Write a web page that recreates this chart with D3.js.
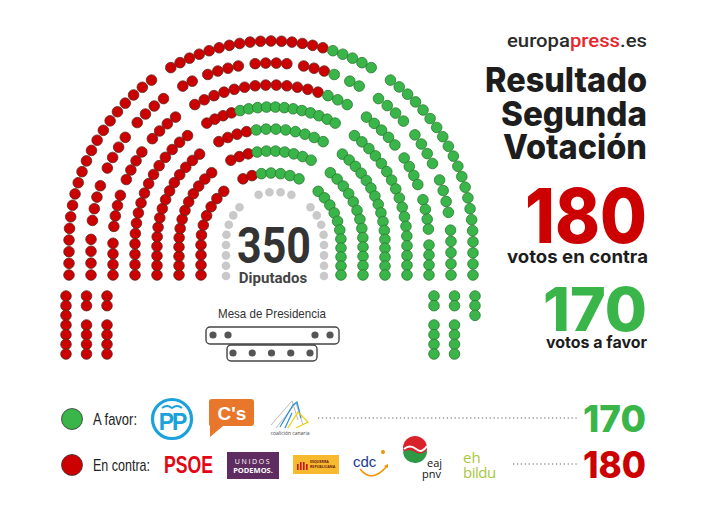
<!DOCTYPE html>
<html>
<head>
<meta charset="utf-8">
<script src="https://cdn.jsdelivr.net/npm/d3@7"></script>
<style>
  body { margin: 0; background: #fff; }
  svg { display: block; font-family: "Open Sans", sans-serif; }
</style>
</head>
<body>
<svg width="708" height="515"></svg>
<script>
// vote result
const voteLabels = ["En contra", "A favor"];
const voteTotals = [180, 170];
const totalSeats = 350;

// seats of the hemicycle, outer row first.
// each block is split in sub-blocks where a small stair breaks it,
// listed along the row from the bottom-left end to the bottom-right end
const leftBlocks = [[20], [4, 4, 4, 4], [4, 4, 4, 4], [16], [15], [13], [10]];
const centreBlocks = [[21], [2, 4, 4, 4, 2], [16], [16], [12], [10], [7]];
const rightBlocks = [[21], [4, 4, 4, 5], [5, 4, 4, 4], [17], [16], [13], [11]];
const centreRed = [16, 13, 13, 4, 4, 3, 2];

// seats below the hemicycle, one column per row (outer first)
const lowerLeft = [[7], [2, 4], [2, 4]];
const lowerRight = [[3], [2, 4], [2, 4]];

// decorative grey ring round the total and the Mesa de Presidencia
const ringBlocks = [[8], [4], [8]];
const mesaTop = [2, 2];
const mesaBottom = 5;

const colors = { "En contra": "#cc0000", "A favor": "#3ab54a" };
const strokes = { "En contra": "#5e2a22", "A favor": "#2a7a30" };
const heavy = "Inter, 'Open Sans', sans-serif";
const narrow = "'Liberation Sans Narrow', 'Liberation Sans', sans-serif";

const svg = d3.select("svg");

const cx = 271, cy = 243;
const radius = d3.scaleLinear().domain([0, 6]).range([202, 70]);
const legLength = 32;
const aisleAngle = 33 * Math.PI / 180;
const aisleHalf = 11.5;
const gapUnit = 1.6;

// point on a horseshoe row at signed path length s from the top
function pointAt(r, s, c = [cx, cy]) {
  const q = r * Math.PI / 2;
  if (Math.abs(s) <= q) {
    const t = s / r;
    return [c[0] + r * Math.sin(t), c[1] - r * Math.cos(t)];
  }
  const side = Math.sign(s);
  return [c[0] + side * r, c[1] + (Math.abs(s) - q)];
}

// spread sub-blocks of seats evenly between two path positions
function spread(blocks, s0, s1) {
  const n = d3.sum(blocks);
  const units = (n - 1) + (blocks.length - 1) * (gapUnit - 1);
  const pos = d3.scaleLinear().domain([0, units]).range([s0, s1]);
  const out = [];
  let u = 0;
  blocks.forEach(b => {
    for (let k = 0; k < b; k++) {
      out.push(pos(u));
      u += 1;
    }
    u += gapUnit - 1;
  });
  return out;
}

function rowSegments(r, leg, aisle, half) {
  const q = r * Math.PI / 2 + leg;
  const aUp = aisle - half / r;
  const aSide = aisle + half / r;
  return [[-q, -r * aSide], [-r * aUp, r * aUp], [r * aSide, q]];
}

const seats = [];
d3.range(7).forEach(i => {
  const r = radius(i);
  const seg = rowSegments(r, legLength, aisleAngle, aisleHalf);
  spread(leftBlocks[i], seg[0][0], seg[0][1]).forEach(s => {
    seats.push({ p: pointAt(r, s), vote: "En contra" });
  });
  spread(centreBlocks[i], seg[1][0], seg[1][1]).forEach((s, k) => {
    seats.push({ p: pointAt(r, s), vote: k < centreRed[i] ? "En contra" : "A favor" });
  });
  spread(rightBlocks[i], seg[2][0], seg[2][1]).forEach(s => {
    seats.push({ p: pointAt(r, s), vote: "A favor" });
  });
});

// lower side columns
const lowerX = d3.scaleLinear().domain([0, 2]).range([66, 107]);
const lowerXr = d3.scaleLinear().domain([0, 2]).range([475, 434]);
const lowerY = d3.scaleLinear().domain([0, 6]).range([296, 354]);
function lowerColumn(blocks, x, vote) {
  let slot = 0;
  blocks.forEach(b => {
    for (let k = 0; k < b; k++) {
      seats.push({ p: [x, lowerY(slot)], vote: vote });
      slot += 1;
    }
    slot += 1;
  });
}
lowerLeft.forEach((col, i) => lowerColumn(col, lowerX(i), "En contra"));
lowerRight.forEach((col, i) => lowerColumn(col, lowerXr(i), "A favor"));

svg.append("g")
  .selectAll("circle")
  .data(seats)
  .join("circle")
  .attr("cx", d => d.p[0])
  .attr("cy", d => d.p[1])
  .attr("r", 5.3)
  .attr("fill", d => colors[d.vote])
  .attr("stroke", d => strokes[d.vote])
  .attr("stroke-width", 0.8);

// grey ring
const ringC = [275, 241];
const ringSeg = rowSegments(49, 35, aisleAngle, aisleHalf);
const ringDots = [];
ringBlocks.forEach((b, i) => {
  spread(b, ringSeg[i][0], ringSeg[i][1]).forEach(s => ringDots.push(pointAt(49, s, ringC)));
});
svg.append("g")
  .selectAll("circle")
  .data(ringDots)
  .join("circle")
  .attr("cx", d => d[0])
  .attr("cy", d => d[1])
  .attr("r", 4.3)
  .attr("fill", "#c9c9c9");

svg.append("text")
  .attr("x", 274).attr("y", 263)
  .attr("text-anchor", "middle")
  .attr("font-family", "Roboto, sans-serif")
  .attr("font-size", 50).attr("font-weight", 700)
  .attr("fill", "#333")
  .attr("textLength", 74).attr("lengthAdjust", "spacingAndGlyphs")
  .text(totalSeats);
svg.append("text")
  .attr("x", 273).attr("y", 283)
  .attr("text-anchor", "middle")
  .attr("font-family", "Roboto, sans-serif")
  .attr("font-size", 15).attr("font-weight", 700)
  .attr("fill", "#444")
  .text("Diputados");

// Mesa de Presidencia
svg.append("text")
  .attr("x", 272).attr("y", 318)
  .attr("text-anchor", "middle")
  .attr("font-family", narrow)
  .attr("font-size", 13)
  .attr("fill", "#333")
  .attr("textLength", 108).attr("lengthAdjust", "spacingAndGlyphs")
  .text("Mesa de Presidencia");
svg.append("rect")
  .attr("x", 206).attr("y", 327).attr("width", 133).attr("height", 17).attr("rx", 4)
  .attr("fill", "#fff").attr("stroke", "#444").attr("stroke-width", 1.4);
svg.append("rect")
  .attr("x", 227).attr("y", 345).attr("width", 90).attr("height", 16).attr("rx", 4)
  .attr("fill", "#fff").attr("stroke", "#444").attr("stroke-width", 1.4);
const mesaTopX = [d3.range(mesaTop[0]).map(k => 213 + k * 15), d3.range(mesaTop[1]).map(k => 315 + k * 15)].flat();
svg.append("g").selectAll("circle").data(mesaTopX).join("circle")
  .attr("cx", d => d).attr("cy", 335).attr("r", 3.6).attr("fill", "#555");
const mesaBx = d3.scaleLinear().domain([0, mesaBottom - 1]).range([233, 310]);
svg.append("g").selectAll("circle").data(d3.range(mesaBottom)).join("circle")
  .attr("cx", d => mesaBx(d)).attr("cy", 353).attr("r", 3.6).attr("fill", "#555");

// header
const head = svg.append("text")
  .attr("x", 647).attr("y", 47)
  .attr("text-anchor", "end")
  .attr("font-family", "Roboto, sans-serif")
  .attr("font-size", 19).attr("font-weight", 500)
  .attr("textLength", 140).attr("lengthAdjust", "spacingAndGlyphs");
head.append("tspan").attr("fill", "#2b2b2b").text("europa");
head.append("tspan").attr("fill", "#e8262b").text("press");
head.append("tspan").attr("fill", "#2b2b2b").text(".es");

const titleLines = [["Resultado", 92, 162], ["Segunda", 126, 146], ["Votación", 159, 144]];
svg.append("g").selectAll("text").data(titleLines).join("text")
  .attr("x", 647).attr("y", d => d[1])
  .attr("text-anchor", "end")
  .attr("font-family", heavy)
  .attr("font-size", 34).attr("font-weight", 800)
  .attr("fill", "#1d1d1d")
  .attr("textLength", d => d[2]).attr("lengthAdjust", "spacingAndGlyphs")
  .text(d => d[0]);

// big numbers
svg.append("text")
  .attr("x", 647).attr("y", 243)
  .attr("text-anchor", "end")
  .attr("font-family", heavy)
  .attr("font-size", 76).attr("font-weight", 800)
  .attr("fill", colors["En contra"])
  .attr("textLength", 122).attr("lengthAdjust", "spacingAndGlyphs")
  .text(voteTotals[0]);
svg.append("text")
  .attr("x", 648).attr("y", 263)
  .attr("text-anchor", "end")
  .attr("font-family", heavy)
  .attr("font-size", 18).attr("font-weight", 700)
  .attr("fill", "#1d1d1d")
  .attr("textLength", 141).attr("lengthAdjust", "spacingAndGlyphs")
  .text("votos en contra");
svg.append("text")
  .attr("x", 647).attr("y", 331)
  .attr("text-anchor", "end")
  .attr("font-family", heavy)
  .attr("font-size", 60).attr("font-weight", 800)
  .attr("fill", colors["A favor"])
  .attr("textLength", 104).attr("lengthAdjust", "spacingAndGlyphs")
  .text(voteTotals[1]);
svg.append("text")
  .attr("x", 647).attr("y", 348)
  .attr("text-anchor", "end")
  .attr("font-family", heavy)
  .attr("font-size", 16).attr("font-weight", 700)
  .attr("fill", "#1d1d1d")
  .attr("textLength", 101).attr("lengthAdjust", "spacingAndGlyphs")
  .text("votos a favor");

// legend
const legendRows = [
  { vote: "A favor", label: "A favor:", width: 44, y: 419, lineFrom: 318, total: voteTotals[1] },
  { vote: "En contra", label: "En contra:", width: 57, y: 465, lineFrom: 513, total: voteTotals[0] }
];
const lg = svg.append("g").selectAll("g").data(legendRows).join("g");
lg.append("circle")
  .attr("cx", 72).attr("cy", d => d.y).attr("r", 10.5)
  .attr("fill", d => colors[d.vote]).attr("stroke", "#333").attr("stroke-width", 0.8);
lg.append("text")
  .attr("x", 93).attr("y", d => d.y + 6)
  .attr("font-family", narrow)
  .attr("font-size", 17).attr("fill", "#222")
  .attr("textLength", d => d.width).attr("lengthAdjust", "spacingAndGlyphs")
  .text(d => d.label);
lg.append("line")
  .attr("x1", d => d.lineFrom).attr("x2", 579)
  .attr("y1", d => d.y - 1).attr("y2", d => d.y - 1)
  .attr("stroke", "#999").attr("stroke-width", 1.3)
  .attr("stroke-dasharray", "1.3,2.6");
lg.append("text")
  .attr("x", 646).attr("y", d => d.y + 13)
  .attr("text-anchor", "end")
  .attr("font-family", heavy)
  .attr("font-size", 37).attr("font-weight", 800)
  .attr("fill", d => colors[d.vote])
  .attr("textLength", 63).attr("lengthAdjust", "spacingAndGlyphs")
  .text(d => d.total);

// party logos (drawn as simple marks)
const logos = svg.append("g");
// PP
logos.append("circle").attr("cx", 172).attr("cy", 419).attr("r", 19.5)
  .attr("fill", "none").attr("stroke", "#1ba1db").attr("stroke-width", 3.2);
logos.append("text").attr("x", 172).attr("y", 430).attr("text-anchor", "middle")
  .attr("font-family", "'Liberation Sans', sans-serif").attr("font-size", 23).attr("font-weight", 700)
  .attr("fill", "#1ba1db").attr("letter-spacing", -2).text("PP");
logos.append("path").attr("d", "M162,408 q5,-4 10,0 q5,-4 10,0")
  .attr("fill", "none").attr("stroke", "#1ba1db").attr("stroke-width", 1.8);
// Ciudadanos
logos.append("path")
  .attr("d", "M212,399 h39 a3,3 0 0 1 3,3 v21 a3,3 0 0 1 -3,3 h-28 l-13,11 v-11 h0 a3,3 0 0 1 -1,-3 v-21 a3,3 0 0 1 3,-3 z")
  .attr("fill", "#e8762b");
logos.append("text").attr("x", 232).attr("y", 420).attr("text-anchor", "middle")
  .attr("font-family", "'Liberation Sans', sans-serif").attr("font-size", 19).attr("font-weight", 700)
  .attr("fill", "#fff").text("C's");
// Coalicion Canaria
logos.append("path").attr("d", "M271,425 L292,401 L298,420 M276,428 L296,403 L303,425")
  .attr("fill", "none").attr("stroke", "#bbb").attr("stroke-width", 1);
logos.append("path").attr("d", "M280,427 L293,405 L297,402 L301,418 M285,428 L292,413")
  .attr("fill", "none").attr("stroke", "#2a8fd6").attr("stroke-width", 1.2);
logos.append("path").attr("d", "M288,428 L298,412 L308,422 L296,428")
  .attr("fill", "none").attr("stroke", "#f0d010").attr("stroke-width", 1.3);
logos.append("text").attr("x", 290).attr("y", 435).attr("text-anchor", "middle")
  .attr("font-size", 5).attr("fill", "#444").text("coalición canaria");
// PSOE
logos.append("text").attr("x", 164).attr("y", 473)
  .attr("font-family", narrow)
  .attr("font-size", 23).attr("font-weight", 700).attr("fill", "#e30613")
  .attr("textLength", 49).attr("lengthAdjust", "spacingAndGlyphs").text("PSOE");
// Unidos Podemos
logos.append("rect").attr("x", 227).attr("y", 452).attr("width", 52).attr("height", 27).attr("fill", "#5f2c61");
logos.append("text").attr("x", 253).attr("y", 464).attr("text-anchor", "middle")
  .attr("font-size", 7).attr("fill", "#fff").attr("letter-spacing", 1.6).text("UNIDOS");
logos.append("text").attr("x", 253).attr("y", 473).attr("text-anchor", "middle")
  .attr("font-size", 7.5).attr("font-weight", 700).attr("fill", "#fff").text("PODEMOS.");
// ERC
logos.append("rect").attr("x", 293).attr("y", 455).attr("width", 46).attr("height", 19).attr("fill", "#f7b92e");
logos.append("g").selectAll("rect").data(d3.range(4)).join("rect")
  .attr("x", d => 297 + d * 3).attr("y", d => 461 + Math.abs(1.5 - d) * 2)
  .attr("width", 1.6).attr("height", d => 9 - Math.abs(1.5 - d) * 2)
  .attr("fill", "#c8102e");
logos.append("text").attr("x", 310).attr("y", 463).attr("font-size", 3.6).attr("font-weight", 700)
  .attr("fill", "#6b1a10").text("ESQUERRA");
logos.append("text").attr("x", 310).attr("y", 468).attr("font-size", 3.6).attr("font-weight", 700)
  .attr("fill", "#6b1a10").text("REPUBLICANA");
// CDC
logos.append("text").attr("x", 353).attr("y", 467)
  .attr("font-family", "'Liberation Sans', sans-serif").attr("font-size", 15)
  .attr("fill", "#1c3d8f").text("cdc");
logos.append("path").attr("d", "M360,469 q12,15 27,-3")
  .attr("fill", "none").attr("stroke", "#f39200").attr("stroke-width", 1.5);
logos.append("path").attr("d", "M384,466 l4,-2 l0,4 z").attr("fill", "#f39200");
logos.append("circle").attr("cx", 383).attr("cy", 452).attr("r", 2).attr("fill", "#f39200");
// PNV
logos.append("circle").attr("cx", 415).attr("cy", 448).attr("r", 12).attr("fill", "#d8232a");
logos.append("path").attr("d", "M403,452 q6,-4 12,0 t12,-2 a12,12 0 0 1 -24,2 z").attr("fill", "#2e9a46");
logos.append("path").attr("d", "M404,449 q6,-5 12,0 t11,-3").attr("fill", "none")
  .attr("stroke", "#fff").attr("stroke-width", 2);
logos.append("text").attr("x", 427).attr("y", 467).attr("font-size", 11).attr("fill", "#111").text("eaj");
logos.append("text").attr("x", 422).attr("y", 478).attr("font-size", 11).attr("fill", "#111").text("pnv");
// EH Bildu
logos.append("text").attr("x", 463).attr("y", 463).attr("font-size", 15).attr("fill", "#a9c63d").text("eh");
logos.append("text").attr("x", 463).attr("y", 478).attr("font-size", 15).attr("fill", "#a9c63d")
  .attr("letter-spacing", -0.5).text("bildu");
</script>
</body>
</html>
